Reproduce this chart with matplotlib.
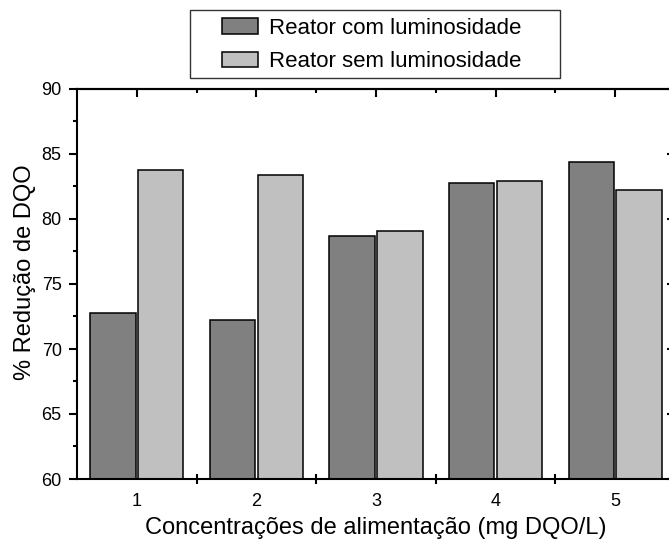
import numpy as np
import matplotlib
matplotlib.use('Agg')
import matplotlib.pyplot as plt
from matplotlib.ticker import MultipleLocator, FixedLocator
from matplotlib.patches import Rectangle

# data
categories = [1, 2, 3, 4, 5]
com_luz = [72.8, 72.2, 78.7, 82.8, 84.4]
sem_luz = [83.75, 83.4, 79.1, 82.9, 82.2]
labels = ['Reator com luminosidade', 'Reator sem luminosidade']

plt.rcParams['font.family'] = ['Liberation Sans', 'DejaVu Sans']

W, H = 669, 543
fig = plt.figure(figsize=(W / 100, H / 100), dpi=100)
ax = fig.add_axes([77 / W, 64 / H, 598 / W, 390 / H])

x = np.array(categories)
w = 0.38
b1 = ax.bar(x - 0.2, np.array(com_luz) - 60, width=w, bottom=60, color='#808080',
            edgecolor='black', linewidth=1.1, label=labels[0])
b2 = ax.bar(x + 0.2, np.array(sem_luz) - 60, width=w, bottom=60, color='#c0c0c0',
            edgecolor='black', linewidth=1.1, label=labels[1])

ax.set_xlim(0.5, 5.5)
ax.set_ylim(60, 90)

for s in ax.spines.values():
    s.set_linewidth(1.5)

# y ticks (left, outward)
ax.yaxis.set_major_locator(MultipleLocator(5))
ax.yaxis.set_minor_locator(MultipleLocator(2.5))
ax.tick_params(axis='y', which='major', direction='out', length=6, width=1.5,
               labelsize=13, pad=5)
ax.tick_params(axis='y', which='minor', direction='out', length=3, width=1.5)

# x ticks: labels at integers, tick marks at half-integers on the bottom
ax.xaxis.set_major_locator(FixedLocator(categories))
ax.xaxis.set_minor_locator(FixedLocator([1.5, 2.5, 3.5, 4.5]))
ax.tick_params(axis='x', which='major', length=0, labelsize=13, pad=10)
ax.tick_params(axis='x', which='minor', direction='inout', length=7, width=1.5)

# mirrored inward ticks on top and right
axt = ax.secondary_xaxis('top')
axt.xaxis.set_major_locator(FixedLocator(categories))
axt.xaxis.set_minor_locator(FixedLocator([1.5, 2.5, 3.5, 4.5]))
axt.tick_params(which='major', direction='in', length=6, width=1.5, labeltop=False)
axt.tick_params(which='minor', direction='in', length=3, width=1.5)
axt.spines['top'].set_linewidth(1.5)

axr = ax.secondary_yaxis('right')
axr.yaxis.set_major_locator(MultipleLocator(5))
axr.yaxis.set_minor_locator(MultipleLocator(2.5))
axr.tick_params(which='major', direction='in', length=6, width=1.5, labelright=False)
axr.tick_params(which='minor', direction='in', length=3, width=1.5)

ax.set_xlabel('Concentrações de alimentação (mg DQO/L)', fontsize=17, labelpad=5)
ax.set_ylabel('% Redução de DQO', fontsize=17)
ax.yaxis.set_label_coords(-0.068, 0.53)

# legend without its own frame; square frame drawn around it like the original
leg = fig.legend(handles=[b1, b2], labels=labels, loc='upper left',
                 bbox_to_anchor=(222 / W, 1 - 18 / H), fontsize=16,
                 frameon=False, handlelength=1.6, handleheight=0.7,
                 handletextpad=0.5, borderaxespad=0, borderpad=0,
                 labelspacing=0.55)
fig.patches.append(Rectangle((190 / W, 1 - 78 / H), 370 / W, 68 / H,
                             transform=fig.transFigure, fill=False,
                             edgecolor='#333333', linewidth=1.0))

fig.savefig('out.png', dpi=100)
